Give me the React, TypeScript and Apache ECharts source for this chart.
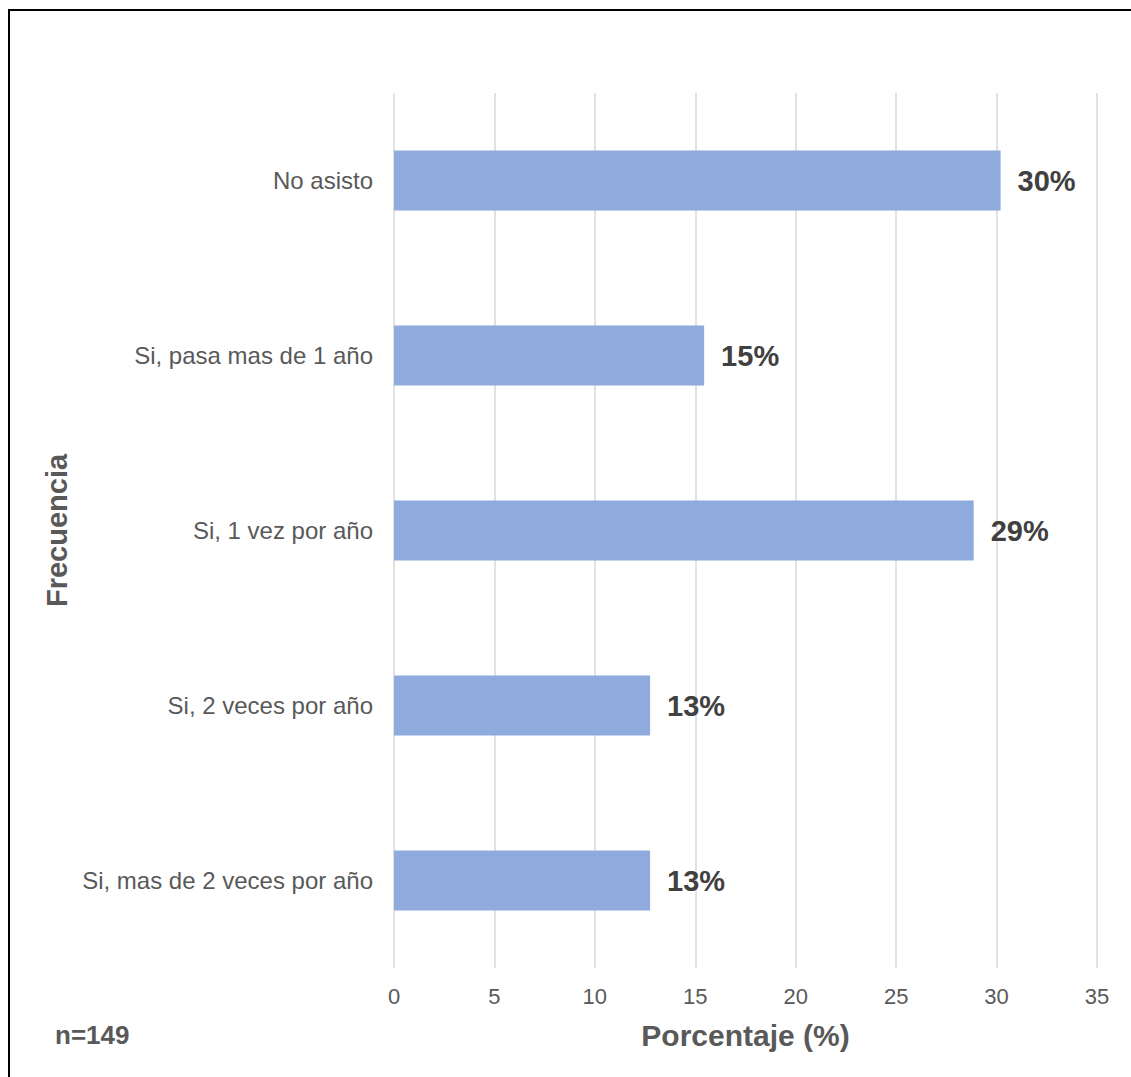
import React, { useEffect, useRef } from "react";
import * as echarts from "echarts";

const categories = [
  "No asisto",
  "Si, pasa mas de 1 año",
  "Si, 1 vez por año",
  "Si, 2 veces por año",
  "Si, mas de 2 veces por año",
];
const values = [30.2, 15.44, 28.86, 12.75, 12.75];
const xTicks = [0, 5, 10, 15, 20, 25, 30, 35];

export default function App() {
  const ref = useRef<HTMLDivElement>(null);
  useEffect(() => {
    const chart = echarts.init(ref.current!, null, { renderer: "svg" });
    const font = "Liberation Sans, Arial, sans-serif";
    chart.setOption({
      animation: false,
      backgroundColor: "#ffffff",
      grid: { left: 394, right: 34, top: 93, bottom: 109, containLabel: false },
      xAxis: {
        type: "value",
        min: xTicks[0],
        max: xTicks[xTicks.length - 1],
        interval: 5,
        axisLine: { show: false },
        axisTick: { show: false },
        splitLine: { show: true, lineStyle: { color: "#d9d9d9", width: 1.5 } },
        axisLabel: { color: "#595959", fontSize: 22, fontFamily: font, margin: 17 },
        name: "Porcentaje (%)",
        nameLocation: "middle",
        nameGap: 52,
        nameTextStyle: { color: "#595959", fontSize: 30, fontWeight: "bold", fontFamily: font },
      },
      yAxis: {
        type: "category",
        data: categories,
        inverse: true,
        axisLine: { show: false },
        axisTick: { show: false },
        axisLabel: { color: "#595959", fontSize: 24, fontFamily: font, margin: 21 },
        name: "Frecuencia",
        nameLocation: "middle",
        nameGap: 320,
        nameRotate: 90,
        nameTextStyle: { color: "#595959", fontSize: 29, fontWeight: "bold", fontFamily: font },
      },
      series: [
        {
          type: "bar",
          data: values,
          barWidth: 60,
          itemStyle: { color: "#8faadc" },
          label: {
            show: true,
            position: "right",
            distance: 17,
            color: "#404040",
            fontSize: 29,
            fontWeight: "bold",
            fontFamily: font,
            formatter: (p: any) => Math.round(p.value) + "%",
          },
        },
      ],
      graphic: [
        {
          type: "rect",
          shape: { x: 9, y: 10, width: 1140, height: 1100 },
          style: { fill: "none", stroke: "#000000", lineWidth: 2 },
        },
        {
          type: "text",
          left: 55,
          top: 1022,
          style: {
            text: "n=149",
            fill: "#595959",
            font: "bold 26px " + font,
          },
        },
      ],
    });
    return () => chart.dispose();
  }, []);
  return (
    <div
      ref={ref}
      style={{ position: "fixed", left: 0, top: 0, width: 1131, height: 1077 }}
    />
  );
}
